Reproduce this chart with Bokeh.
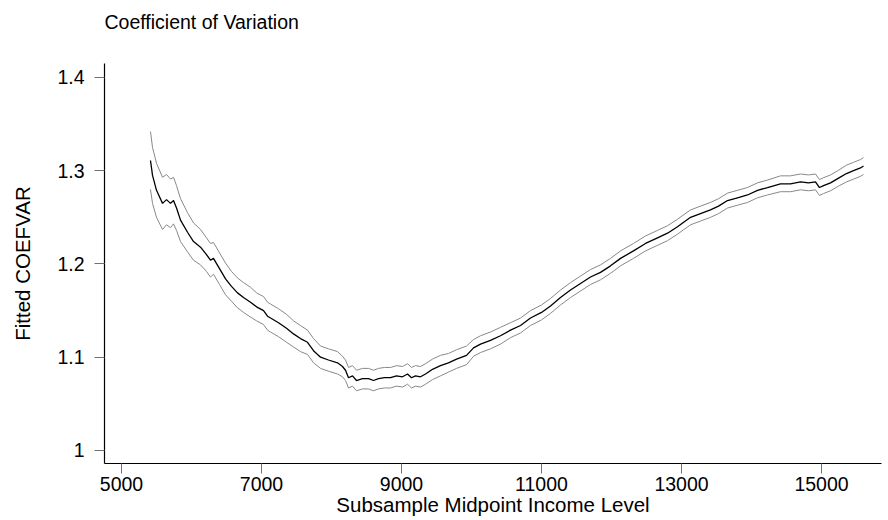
from bokeh.plotting import figure
from bokeh.models import FixedTicker, Range1d
from bokeh.embed import file_html
from bokeh.resources import INLINE

title_text = "Coefficient of Variation"
x_label = "Subsample Midpoint Income Level"
y_label = "Fitted COEFVAR"
x_ticks = [5000, 7000, 9000, 11000, 13000, 15000]
y_ticks = [1.0, 1.1, 1.2, 1.3, 1.4]
y_tick_labels = ["1", "1.1", "1.2", "1.3", "1.4"]

income = [5414, 5443, 5500, 5586, 5643, 5700, 5743, 5786, 5843, 5943,
          6029, 6129, 6214, 6271, 6314, 6400, 6486, 6571, 6657, 6743,
          6843, 6929, 7029, 7086, 7129, 7243, 7357, 7457, 7557, 7657,
          7743, 7843, 7957, 8086, 8157, 8200, 8243, 8300, 8357, 8443,
          8529, 8600, 8671, 8757, 8843, 8929, 9014, 9086, 9143, 9200,
          9271, 9343, 9443, 9557, 9671, 9786, 9929, 10029, 10129, 10271,
          10414, 10557, 10700, 10843, 11000, 11129, 11271, 11414, 11557, 11700,
          11843, 11986, 12129, 12314, 12486, 12657, 12800, 12943, 13129, 13271,
          13414, 13529, 13657, 13800, 13943, 14086, 14229, 14414, 14557, 14700,
          14814, 14914, 14971, 15029, 15129, 15243, 15357, 15457, 15557, 15600]

fitted = [1.311, 1.295, 1.279, 1.265, 1.269, 1.265, 1.268, 1.260, 1.247, 1.234,
          1.224, 1.218, 1.210, 1.204, 1.206, 1.195, 1.184, 1.176, 1.169, 1.164,
          1.159, 1.154, 1.150, 1.144, 1.142, 1.137, 1.131, 1.125, 1.120, 1.116,
          1.107, 1.100, 1.097, 1.094, 1.090, 1.086, 1.078, 1.080, 1.075, 1.077,
          1.077, 1.075, 1.077, 1.078, 1.078, 1.080, 1.079, 1.082, 1.078, 1.080,
          1.079, 1.082, 1.087, 1.091, 1.094, 1.098, 1.102, 1.110, 1.114, 1.118,
          1.123, 1.129, 1.134, 1.142, 1.148, 1.155, 1.164, 1.172, 1.179, 1.186,
          1.191, 1.198, 1.206, 1.214, 1.222, 1.228, 1.233, 1.240, 1.250, 1.254,
          1.258, 1.262, 1.268, 1.271, 1.274, 1.279, 1.282, 1.286, 1.286, 1.288,
          1.287, 1.288, 1.282, 1.284, 1.287, 1.292, 1.297, 1.300, 1.303, 1.305]

half_width = [0.031, 0.030, 0.029, 0.028, 0.027, 0.026, 0.025, 0.024, 0.023, 0.021,
              0.020, 0.019, 0.018, 0.018, 0.017, 0.017, 0.017, 0.016, 0.016, 0.016,
              0.016, 0.015, 0.015, 0.015, 0.015, 0.015, 0.015, 0.014, 0.014, 0.013,
              0.013, 0.012, 0.012, 0.012, 0.011, 0.011, 0.011, 0.011, 0.011, 0.011,
              0.011, 0.011, 0.011, 0.011, 0.011, 0.011, 0.011, 0.011, 0.011, 0.011,
              0.011, 0.011, 0.011, 0.011, 0.010, 0.010, 0.010, 0.009, 0.009, 0.009,
              0.009, 0.008, 0.008, 0.008, 0.008, 0.008, 0.008, 0.008, 0.008, 0.008,
              0.008, 0.008, 0.008, 0.008, 0.008, 0.008, 0.008, 0.008, 0.008, 0.008,
              0.008, 0.008, 0.008, 0.008, 0.008, 0.008, 0.008, 0.0085, 0.0085, 0.0085,
              0.0085, 0.0085, 0.0085, 0.0085, 0.0085, 0.0085, 0.009, 0.009, 0.009, 0.009]

assert len(income) == len(fitted) == len(half_width)
upper = [m + h for m, h in zip(fitted, half_width)]
lower = [m - h for m, h in zip(fitted, half_width)]

FONT = "Liberation Sans"

p = figure(width=888, height=520, output_backend="svg", toolbar_location=None,
           x_range=Range1d(4757, 15857), y_range=Range1d(0.986, 1.415),
           min_border_left=104, min_border_right=7, min_border_top=63,
           min_border_bottom=57)
p.outline_line_color = None
p.grid.visible = False
p.background_fill_color = "white"
p.border_fill_color = "white"

# a trailing empty line makes the title panel taller so the text sits near the top
p.title.text = title_text + "\n "
p.title.text_font = FONT
p.title.text_font_size = "19.5px"
p.title.text_font_style = "normal"
p.title.text_color = "black"
p.title.align = "left"
p.title.vertical_align = "top"
p.title.standoff = 13

p.line(income, upper, line_color="#888888", line_width=1)
p.line(income, lower, line_color="#888888", line_width=1)
p.line(income, fitted, line_color="black", line_width=1.3)

for ax in (p.xaxis[0], p.yaxis[0]):
    ax.axis_line_color = "black"
    ax.axis_line_width = 1.2
    ax.major_tick_line_color = "#707070"
    ax.major_tick_out = 10
    ax.major_tick_in = 0
    ax.minor_tick_out = 0
    ax.minor_tick_in = 0
    ax.major_label_text_font = FONT
    ax.major_label_text_font_size = "19.5px"
    ax.major_label_text_color = "black"
    ax.axis_label_text_font = FONT
    ax.axis_label_text_font_size = "20.5px"
    ax.axis_label_text_font_style = "normal"
    ax.axis_label_text_color = "black"

p.xaxis.ticker = FixedTicker(ticks=x_ticks)
p.yaxis.ticker = FixedTicker(ticks=y_ticks)
p.yaxis.major_label_overrides = {t: s for t, s in zip(y_ticks, y_tick_labels)}
p.xaxis.axis_label = x_label
p.yaxis.axis_label = y_label
p.xaxis.major_label_standoff = 3
p.xaxis.axis_label_standoff = -1
p.yaxis.major_label_standoff = 10
p.yaxis.axis_label_standoff = 20

open("out.html", "w").write(file_html(p, INLINE))
